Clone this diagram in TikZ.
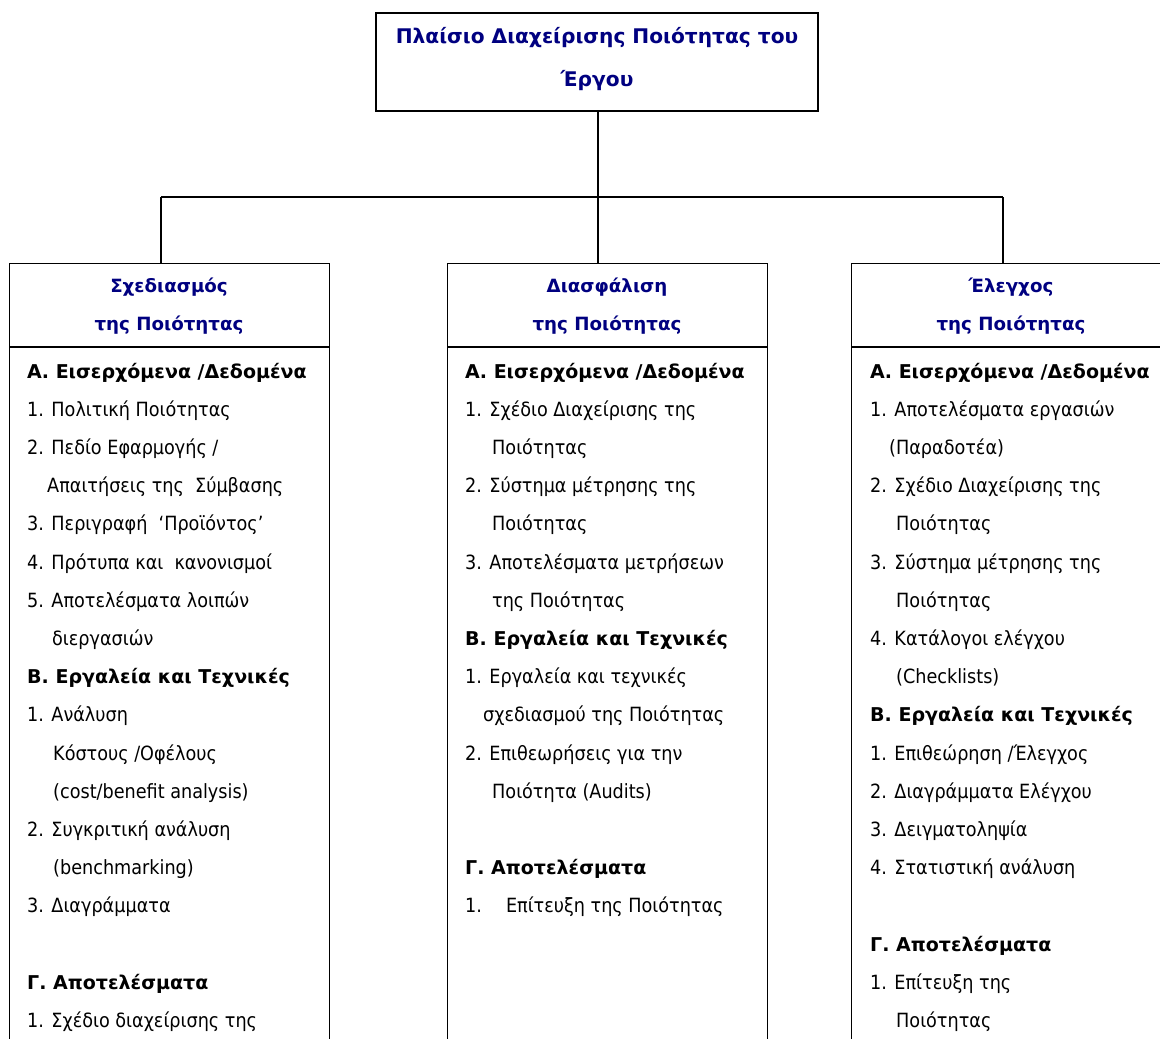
\documentclass[tikz,border=0pt]{standalone}
\usepackage{fontspec}
\setmainfont{DejaVu Sans Condensed}[BoldFont={DejaVu Sans Bold}, BoldFeatures={Scale=0.97}]
\definecolor{navy}{RGB}{0,0,128}
\tikzset{
  frame/.style={draw, line width=1.3pt, inner sep=0pt, anchor=north west, minimum width=320pt, minimum height=900pt},
  conn/.style={line width=1.3pt},
  item/.style={anchor=base west, inner sep=0pt, font=\fontsize{19.6}{22}\selectfont},
  head/.style={align=center, inner sep=0pt, text=navy, font=\bfseries\fontsize{18.8}{38.2}\selectfont},
}
\begin{document}
\begin{tikzpicture}[x=1pt,y=-1pt]
\useasboundingbox (0,0) rectangle (1160,1039);
\clip (0,0) rectangle (1160,1039);
% top box
\node[draw, line width=1.3pt, minimum width=442pt, minimum height=98pt, inner sep=0pt] (top) at (597,62) {};
\node[head, font=\bfseries\fontsize{20.8}{43}\selectfont] (toptxt) at (597,59) {Πλαίσιο Διαχείρισης Ποιότητας του\\Έργου};
% three boxes
\node[frame] (L) at (9,263) {};
\node[frame] (M) at (447,263) {};
\node[frame] (R) at (851,263) {};
\foreach \b in {L,M,R}
  \draw[conn] ([yshift=-84pt]\b.north west) -- ([yshift=-84pt]\b.north east);
% connectors
\coordinate (bl) at (161,197);
\coordinate (bm) at (598,197);
\coordinate (br) at (1003,197);
\draw[conn] (top.south -| bm) -- (bm |- M.north);
\draw[conn] (bl) -- (br);
\draw[conn] (bl) -- (bl |- L.north);
\draw[conn] (br) -- (br |- R.north);
% headers
\node[head] (Lh) at (169,306) {Σχεδιασμός\\της Ποιότητας};
\node[head] (Mh) at (607,306) {Διασφάλιση\\της Ποιότητας};
\node[head] (Rh) at (1011,306) {Έλεγχος\\της Ποιότητας};
% left body
\foreach \dx/\t [count=\i from 0] in {
  0/{\textbf{Α. Εισερχόμενα /Δεδομένα}},
  0/{1. Πολιτική Ποιότητας},
  0/{2. Πεδίο Εφαρμογής /},
  20/{Απαιτήσεις της\ \ Σύμβασης},
  0/{3. Περιγραφή\ \ ‘Προϊόντος’},
  0/{4. Πρότυπα και\ \ κανονισμοί},
  0/{5. Αποτελέσματα λοιπών},
  25/{διεργασιών},
  0/{\textbf{Β. Εργαλεία και Τεχνικές}},
  0/{1. Ανάλυση},
  26/{Κόστους /Οφέλους},
  26/{(cost/benefit analysis)},
  0/{2. Συγκριτική ανάλυση},
  26/{(benchmarking)},
  0/{3. Διαγράμματα},
  0/{},
  0/{\textbf{Γ. Αποτελέσματα}},
  0/{1. Σχέδιο διαχείρισης της}}
  \node[item] (Lt\i) at (27+\dx, 378+38.2*\i) {\t};
% middle body
\foreach \dx/\t [count=\i from 0] in {
  0/{\textbf{Α. Εισερχόμενα /Δεδομένα}},
  0/{1. Σχέδιο Διαχείρισης της},
  27/{Ποιότητας},
  0/{2. Σύστημα μέτρησης της},
  27/{Ποιότητας},
  0/{3. Αποτελέσματα μετρήσεων},
  27/{της Ποιότητας},
  0/{\textbf{Β. Εργαλεία και Τεχνικές}},
  0/{1. Εργαλεία και τεχνικές},
  18/{σχεδιασμού της Ποιότητας},
  0/{2. Επιθεωρήσεις για την},
  27/{Ποιότητα (Audits)},
  0/{},
  0/{\textbf{Γ. Αποτελέσματα}},
  0/{1.\hspace{24pt}Επίτευξη της Ποιότητας}}
  \node[item] (Mt\i) at (465+\dx, 378+38.2*\i) {\t};
% right body
\foreach \dx/\t [count=\i from 0] in {
  0/{\textbf{Α. Εισερχόμενα /Δεδομένα}},
  0/{1. Αποτελέσματα εργασιών},
  19/{(Παραδοτέα)},
  0/{2. Σχέδιο Διαχείρισης της},
  26/{Ποιότητας},
  0/{3. Σύστημα μέτρησης της},
  26/{Ποιότητας},
  0/{4. Κατάλογοι ελέγχου},
  26/{(Checklists)},
  0/{\textbf{Β. Εργαλεία και Τεχνικές}},
  0/{1. Επιθεώρηση /Έλεγχος},
  0/{2. Διαγράμματα Ελέγχου},
  0/{3. Δειγματοληψία},
  0/{4. Στατιστική ανάλυση},
  0/{},
  0/{\textbf{Γ. Αποτελέσματα}},
  0/{1. Επίτευξη της},
  26/{Ποιότητας}}
  \node[item] (Rt\i) at (870+\dx, 378+38.2*\i) {\t};
\end{tikzpicture}
\end{document}
